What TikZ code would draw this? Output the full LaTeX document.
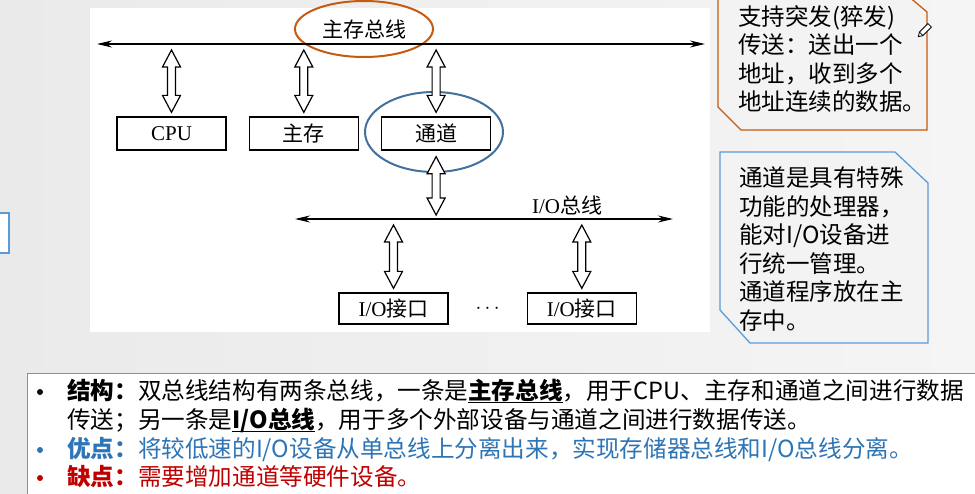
\documentclass[tikz,border=0pt]{standalone}
\usepackage{fontspec}
\setmainfont{Noto Sans CJK SC}
\newfontfamily\timesfont{Liberation Serif}
\usetikzlibrary{arrows.meta, positioning, calc, shapes.geometric}

\definecolor{busorange}{RGB}{197,90,17}
\definecolor{chanblue}{RGB}{65,113,156}
\definecolor{noteblue}{RGB}{91,155,213}
\definecolor{textblue}{RGB}{46,117,182}
\definecolor{textred}{RGB}{192,0,0}
\definecolor{bgleft}{RGB}{234,234,234}
\definecolor{bgright}{RGB}{245,245,245}
\definecolor{notefill}{RGB}{243,243,243}

% hollow two-headed arrow between two points on one vertical
\newcommand{\dblarrow}[2]{%
  \draw[hollow] ($(#1)+(0,6)$) coordinate (tip) -- ++(9,17) -- ++(-5,0)
    -- ($(#2)+(4,-21)$) -- ++(5,0) -- ($(#2)+(0,-4)$) -- ++(-9,-17) -- ++(5,0)
    -- ($(tip)+(-4,17)$) -- ++(-5,0) -- cycle;}
% underlined key word
\newcommand{\keyword}[1]{\setbox0\hbox{\textbf{#1}}\rlap{\rule[-3.5pt]{\wd0}{1.3pt}}\box0}

\begin{document}
\begin{tikzpicture}[x=1pt, y=-1pt,
    unit/.style={draw, fill=white, line width=1.3pt, minimum width=109pt, minimum height=33pt, inner sep=0pt, font=\fontsize{21}{25}\selectfont},
    bus/.style={{Stealth[length=15pt, width=7pt]}-{Stealth[length=15pt, width=7pt]}, line width=1.2pt},
    hollow/.style={draw, fill=white, line width=1.2pt, line join=miter},
    ring/.style={ellipse, draw, line width=2pt, inner sep=0pt},
    note/.style={anchor=west, align=left, inner sep=0pt, font=\fontsize{23.5}{28.5}\selectfont},
    item/.style={anchor=west, inner sep=0pt, text height=20pt, text depth=5pt, font=\fontsize{23.6}{28}\selectfont},
    dot/.style={circle, inner sep=0pt, minimum size=6pt}
]
    \useasboundingbox (0,0) rectangle (975,493);
    \shade[left color=bgleft, right color=bgright] (0,0) rectangle (975,493);
    \fill[white] (90,8) rectangle (710,332);

    % Rings
    \node[ring, draw=busorange, minimum width=138pt, minimum height=56pt, font=\fontsize{21}{25}\selectfont] (mainlabel) at (364,29) {主存总线};
    \node[ring, draw=chanblue, minimum width=138pt, minimum height=80pt] (chanring) at (434,132) {};

    % Units
    \node[unit] (cpu) at (171.5,133.5) {\timesfont CPU};
    \node[unit, right=22pt of cpu] (mem) {主存};
    \node[unit, right=22pt of mem] (chan) {通道};
    \node[unit, minimum height=31pt] (io1) at (393.5,308.5) {{\timesfont I/O}接口};
    \node[unit, minimum height=31pt, right=78pt of io1] (io2) {{\timesfont I/O}接口};
    \node[font=\fontsize{21}{25}\selectfont] (dots) at ($(io1.east)!0.5!(io2.west)$) {$\cdots$};

    % Buses
    \coordinate (mbL) at (97,44);
    \coordinate (mbR) at (705,44);
    \coordinate (ioL) at (295,219);
    \coordinate (ioR) at (673,219);
    \draw[bus] (mbL) -- (mbR);
    \draw[bus] (ioL) -- (ioR);
    \node[font=\fontsize{21}{25}\selectfont] (iolabel) at (567,205) {{\timesfont I/O}总线};

    % Links
    \dblarrow{cpu.north |- mbL}{cpu.north}
    \dblarrow{mem.north |- mbL}{mem.north}
    \dblarrow{chan.north |- mbL}{chan.north}
    \dblarrow{chan.south}{chan.south |- ioL}
    \dblarrow{io1.north |- ioL}{io1.north}
    \dblarrow{io2.north |- ioL}{io2.north}

    % Notes
    \draw[busorange, line width=1.3pt, fill=notefill] (718,-10) -- (901,-10) -- (927,12) -- (927,130) -- (741,130) -- (718,107) -- cycle;
    \node[note] (burst) at (738,59) {支持突发(猝发)\\传送：送出一个\\地址，收到多个\\地址连续的数据。};
    \draw[line width=0.8pt, fill=white, shift={(924,31)}, rotate=45] (-4,-2.5) rectangle (8,2.5) (-4,-2.5) -- (-8,0) -- (-4,2.5);
    \draw[noteblue, line width=1.3pt, fill=notefill] (720,152) -- (895,152) -- (928,183) -- (928,343) -- (750,343) -- (720,310) -- cycle;
    \node[note] (chnote) at (739,249) {通道是具有特殊\\功能的处理器，\\能对I/O设备进\\行统一管理。\\通道程序放在主\\存中。};
    \draw[noteblue, line width=2pt, fill=white] (-5,213) rectangle (9,253);

    % Summary
    \draw[noteblue, line width=1pt, fill=white] (27,373) rectangle (990,505);
    \node[dot, fill=black] (b1) at (40,392) {};
    \node[dot, fill=textblue] (b2) at (40,450) {};
    \node[dot, fill=textred] (b3) at (40,478) {};
    \node[item] (struct) at (67,392) {\textbf{结构：}双总线结构有两条总线，一条是\keyword{主存总线}，用于CPU、主存和通道之间进行数据};
    \node[item] (struct2) at (67,421) {传送；另一条是\keyword{I/O总线}，用于多个外部设备与通道之间进行数据传送。};
    \node[item, text=textblue] (pro) at (67,450) {\textbf{优点：}将较低速的I/O设备从单总线上分离出来，实现存储器总线和I/O总线分离。};
    \node[item, text=textred] (con) at (67,478) {\textbf{缺点：}需要增加通道等硬件设备。};
\end{tikzpicture}
\end{document}
